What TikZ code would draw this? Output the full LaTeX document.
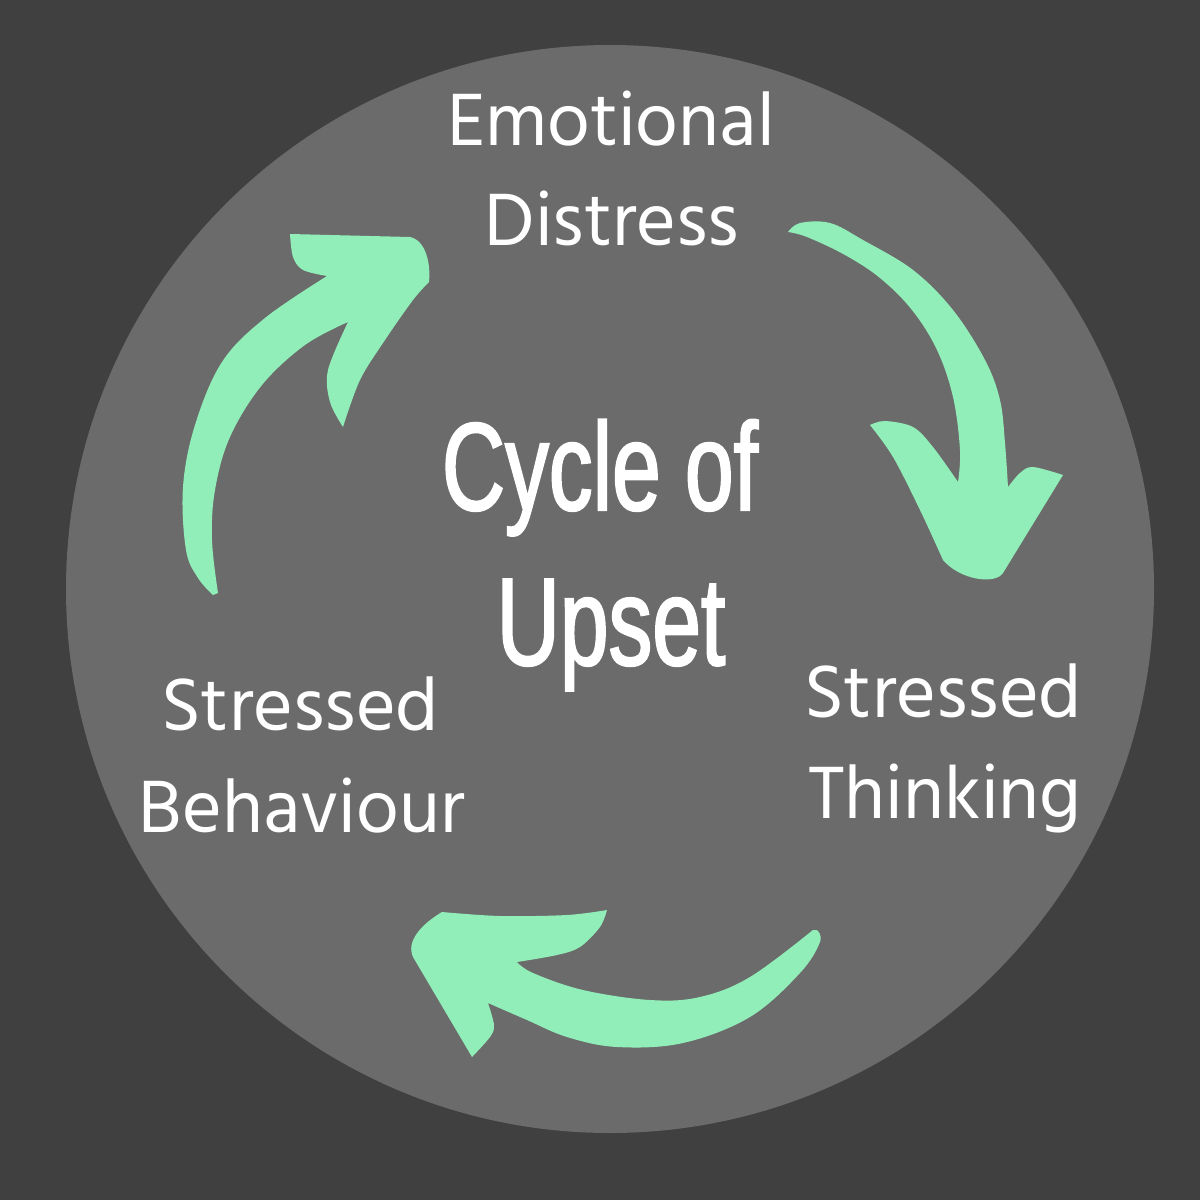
\documentclass[tikz,border=0pt]{standalone}
\usepackage{fontspec}
\setmainfont{Hind Madurai}
\newfontfamily\titlefont[FakeStretch=0.70,FakeBold=1.6]{Liberation Sans}
\definecolor{bgc}{HTML}{404040}
\definecolor{discc}{HTML}{6B6B6B}
\definecolor{arrowc}{HTML}{91EEB9}
\begin{document}
\begin{tikzpicture}[x=1pt,y=-1pt,
  lbl/.style={text=white,anchor=base,inner sep=0pt,font=\fontsize{76}{84}\selectfont},
  ttl/.style={text=white,anchor=base,inner sep=0pt,font=\titlefont\fontsize{125}{130}\selectfont},
  brush/.style={fill=arrowc}]
\fill[bgc] (0,0) rectangle (1200,1200);
\useasboundingbox (0,0) rectangle (1200,1200);
\fill[discc] (610,589) circle[radius=544];
% arrow 1 (up-right)
\fill[brush] (213,595)
  -- plot[smooth,tension=0.6] coordinates {(213,595) (198,578) (186,550) (183,487) (195,425) (222,362) (265,318) (327,276)}
  -- plot[smooth,tension=0.55] coordinates {(327,276) (303,270) (293,257) (290,234)}
  -- (410,237) .. controls (425,240) and (431,262) .. (429,282)
  -- plot[smooth,tension=0.55] coordinates {(429,282) (413,300) (385,340) (360,380) (343,427)}
  -- plot[smooth,tension=0.55] coordinates {(343,427) (330,402) (328,370) (348,322)}
  -- plot[smooth,tension=0.6] coordinates {(348,322) (305,345) (262,385) (230,437) (215,490) (212,540) (218,593)}
  -- cycle;
% arrow 2 (down)
\fill[brush] (788,232)
  -- plot[smooth,tension=0.6] coordinates {(788,232) (800,223) (830,223) (863,240) (913,270) (953,310) (985,360) (1000,400) (1005,443) (1008,487)}
  -- plot[smooth,tension=0.55] coordinates {(1008,487) (1020,473) (1033,467) (1063,475)}
  -- (1003,573) .. controls (995,585) and (960,580) .. (943,560)
  -- plot[smooth,tension=0.55] coordinates {(943,560) (920,510) (893,457) (870,425)}
  -- plot[smooth,tension=0.55] coordinates {(870,425) (885,421) (913,427) (933,447) (958,482)}
  -- plot[smooth,tension=0.6] coordinates {(958,482) (960,450) (953,397) (937,350) (912,310) (880,278) (845,255) (807,237) (788,232)}
  -- cycle;
% arrow 3 (left)
\fill[brush] (817,930)
  -- plot[smooth,tension=0.6] coordinates {(817,930) (820,942) (800,973) (750,1017) (683,1043) (617,1047) (567,1037) (527,1020) (488,1003)}
  -- plot[smooth,tension=0.55] coordinates {(488,1003) (494,1025) (490,1037) (472,1057)}
  -- (413,957) .. controls (408,947) and (412,930) .. (442,912)
  -- plot[smooth,tension=0.55] coordinates {(442,912) (500,916) (567,915) (607,910)}
  -- plot[smooth,tension=0.55] coordinates {(607,910) (600,927) (580,947) (557,955) (517,962)}
  -- plot[smooth,tension=0.6] coordinates {(517,962) (533,973) (583,990) (650,1000) (700,997) (750,977) (813,930)}
  -- cycle;
% labels
\node[lbl] (ed1) at (611,145) {Emotional};
\node[lbl] (ed2) at (612,245) {Distress};
\node[lbl] (st1) at (943,717) {Stressed};
\node[lbl] (st2) at (945,818) {Thinking};
\node[lbl] (sb1) at (300,730) {Stressed};
\node[lbl] (sb2) at (302,832) {Behaviour};
\node[ttl] (c1) at (600,510) {Cycle of};
\node[ttl] (c2) at (611,665) {Upset};
\end{tikzpicture}
\end{document}
